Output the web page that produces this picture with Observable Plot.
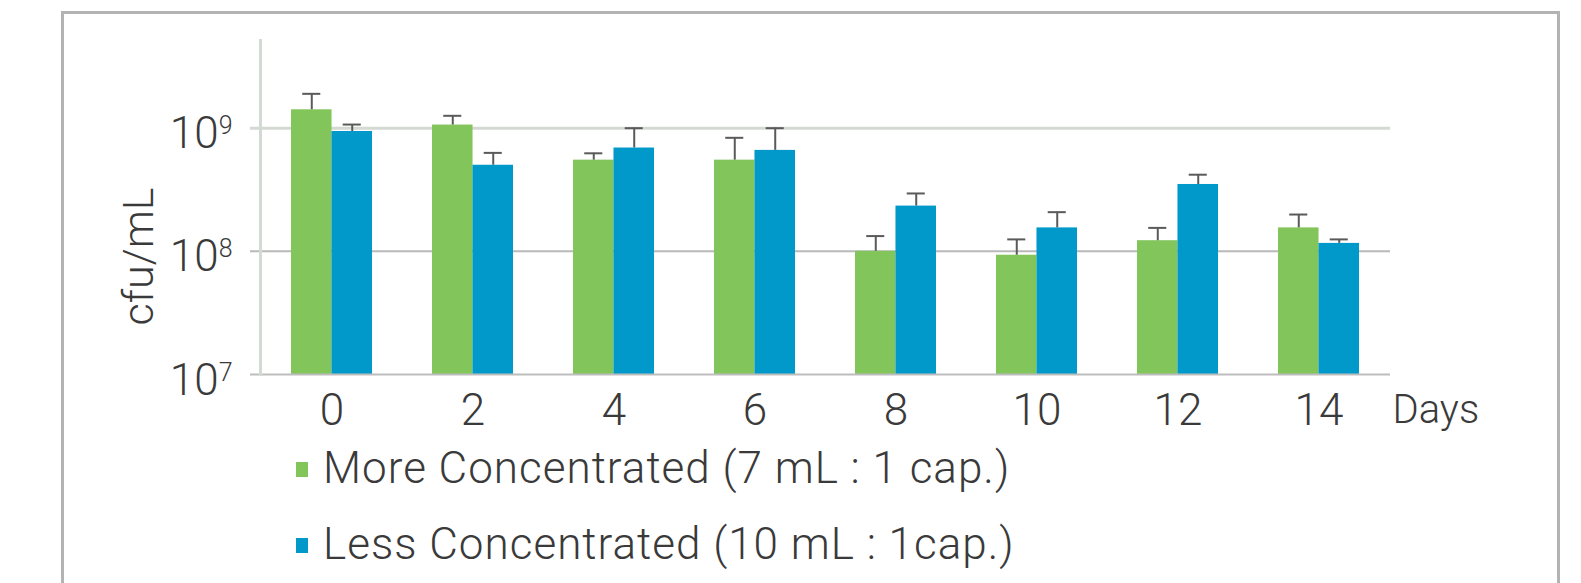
<!DOCTYPE html>
<html><head><meta charset="utf-8">
<script src="https://cdn.jsdelivr.net/npm/d3@7"></script>
<script src="https://cdn.jsdelivr.net/npm/@observablehq/plot@0.6"></script>
<style>
html,body{margin:0;padding:0;background:#fff;overflow:hidden;width:1581px;height:583px;}
#frame{position:absolute;left:61px;top:11px;width:1499px;height:700px;border:3px solid #b3b3b3;box-sizing:border-box;}
#chart{position:absolute;left:0;top:0;}
.item{position:absolute;left:296px;white-space:nowrap;font-family:Roboto;font-weight:300;font-size:44px;line-height:44px;letter-spacing:1px;color:#3a3a3a;}
.sw{position:absolute;left:0;top:16px;width:12px;height:15px;}
.lt{position:absolute;left:27px;top:0;}
</style></head><body>
<div id="frame"></div><div id="chart"></div><div id="legend"></div>
<script>
const days = ["0","2","4","6","8","10","12","14"];
const seriesNames = ["More Concentrated (7 mL : 1 cap.)", "Less Concentrated (10 mL : 1cap.)"];
const moreValues = [1.41e9, 1.06e9, 5.5e8, 5.5e8, 1.0e8, 9.3e7, 1.22e8, 1.55e8];
const moreErrors = [4.9e8, 2.0e8, 7.5e7, 2.85e8, 3.3e7, 3.2e7, 3.3e7, 4.4e7];
const lessValues = [9.4e8, 5.0e8, 6.9e8, 6.6e8, 2.33e8, 1.55e8, 3.49e8, 1.16e8];
const lessErrors = [1.3e8, 1.3e8, 3.1e8, 3.4e8, 6.2e7, 5.3e7, 7.0e7, 9.0e6];
const yTicks = [1e7, 1e8, 1e9];
const yMax = 5.15e9;
const colors = ["#82c55b", "#0099ca"];
const xLabel = "Days";
const yLabel = "cfu/mL";

const W = 1581, H = 440, mL = 260, mR = 191, mT = 40, mB = 66;
const padIn = 0.427, padOut = padIn / 2;
const step = (W - mL - mR) / days.length;
const bw = step * (1 - padIn);
const half = bw / 2;
const cap = 18;

const more = days.map((d, i) => ({day: d, value: moreValues[i], err: moreErrors[i]}));
const less = days.map((d, i) => ({day: d, value: lessValues[i], err: lessErrors[i]}));
const base = yTicks[0];

const svg = Plot.plot({
  width: W, height: H,
  marginLeft: mL, marginRight: mR, marginTop: mT, marginBottom: mB,
  style: {background: "none", fontFamily: "Roboto", fontWeight: 300, color: "#3a3a3a", overflow: "visible"},
  x: {type: "band", domain: days, paddingInner: padIn, paddingOuter: padOut, align: 0.5},
  y: {type: "log", domain: [base, yMax]},
  marks: [
    Plot.ruleY([yTicks[2]], {stroke: "#d4d9d4", strokeWidth: 3, insetLeft: -10}),
    Plot.ruleY([yTicks[1]], {stroke: "#b9b9b9", strokeWidth: 2, insetLeft: -10}),
    Plot.barY(more, {x: "day", y1: () => base, y2: "value", fill: colors[0], insetRight: half}),
    Plot.barY(less, {x: "day", y1: () => base, y2: "value", fill: colors[1], insetLeft: half}),
    Plot.ruleX(more, {x: "day", y1: "value", y2: d => d.value + d.err, dx: -half / 2, stroke: "#5a5a5a", strokeWidth: 2}),
    Plot.ruleX(less, {x: "day", y1: "value", y2: d => d.value + d.err, dx: half / 2, stroke: "#5a5a5a", strokeWidth: 2}),
    Plot.tickY(more, {x: "day", y: d => d.value + d.err, stroke: "#5a5a5a", strokeWidth: 2, insetLeft: half / 2 - cap / 2, insetRight: bw - half / 2 - cap / 2}),
    Plot.tickY(less, {x: "day", y: d => d.value + d.err, stroke: "#5a5a5a", strokeWidth: 2, insetLeft: bw - half / 2 - cap / 2, insetRight: half / 2 - cap / 2}),
    Plot.ruleY([base], {stroke: "#bdbdbd", strokeWidth: 2, insetLeft: -10}),
    Plot.frame({anchor: "left", stroke: "#d3d9d3", strokeWidth: 3}),
    Plot.axisX({tickSize: 0, tickPadding: 19, fontSize: 44, label: null}),
    Plot.axisY({ticks: yTicks, tickSize: 0, tickPadding: 28, fontSize: 44, label: null, dy: 6,
      tickFormat: d => "10^" + Math.round(Math.log10(d))}),
    Plot.text([xLabel], {frameAnchor: "bottom-right", textAnchor: "start", lineAnchor: "middle", dx: 2, dy: 36, fontSize: 40}),
    Plot.text([yLabel], {frameAnchor: "bottom-left", textAnchor: "middle", lineAnchor: "middle", rotate: -90, dx: -121, dy: -118, fontSize: 43})
  ]
});

const ns = "http://www.w3.org/2000/svg";
svg.querySelectorAll('g[aria-label="y-axis tick label"] text').forEach(t => {
  const parts = t.textContent.split("^");
  t.textContent = parts[0];
  const ts = document.createElementNS(ns, "tspan");
  ts.setAttribute("dy", "-14");
  ts.setAttribute("font-size", "25");
  ts.textContent = parts[1];
  t.appendChild(ts);
});
document.getElementById("chart").appendChild(svg);

const legend = document.getElementById("legend");
const tops = [446, 522];
seriesNames.forEach((name, i) => {
  const item = document.createElement("div");
  item.className = "item";
  item.style.top = tops[i] + "px";
  const sw = document.createElement("span");
  sw.className = "sw";
  sw.style.background = colors[i];
  const lt = document.createElement("span");
  lt.className = "lt";
  lt.textContent = name;
  item.appendChild(sw); item.appendChild(lt);
  legend.appendChild(item);
});
</script>
</body></html>
